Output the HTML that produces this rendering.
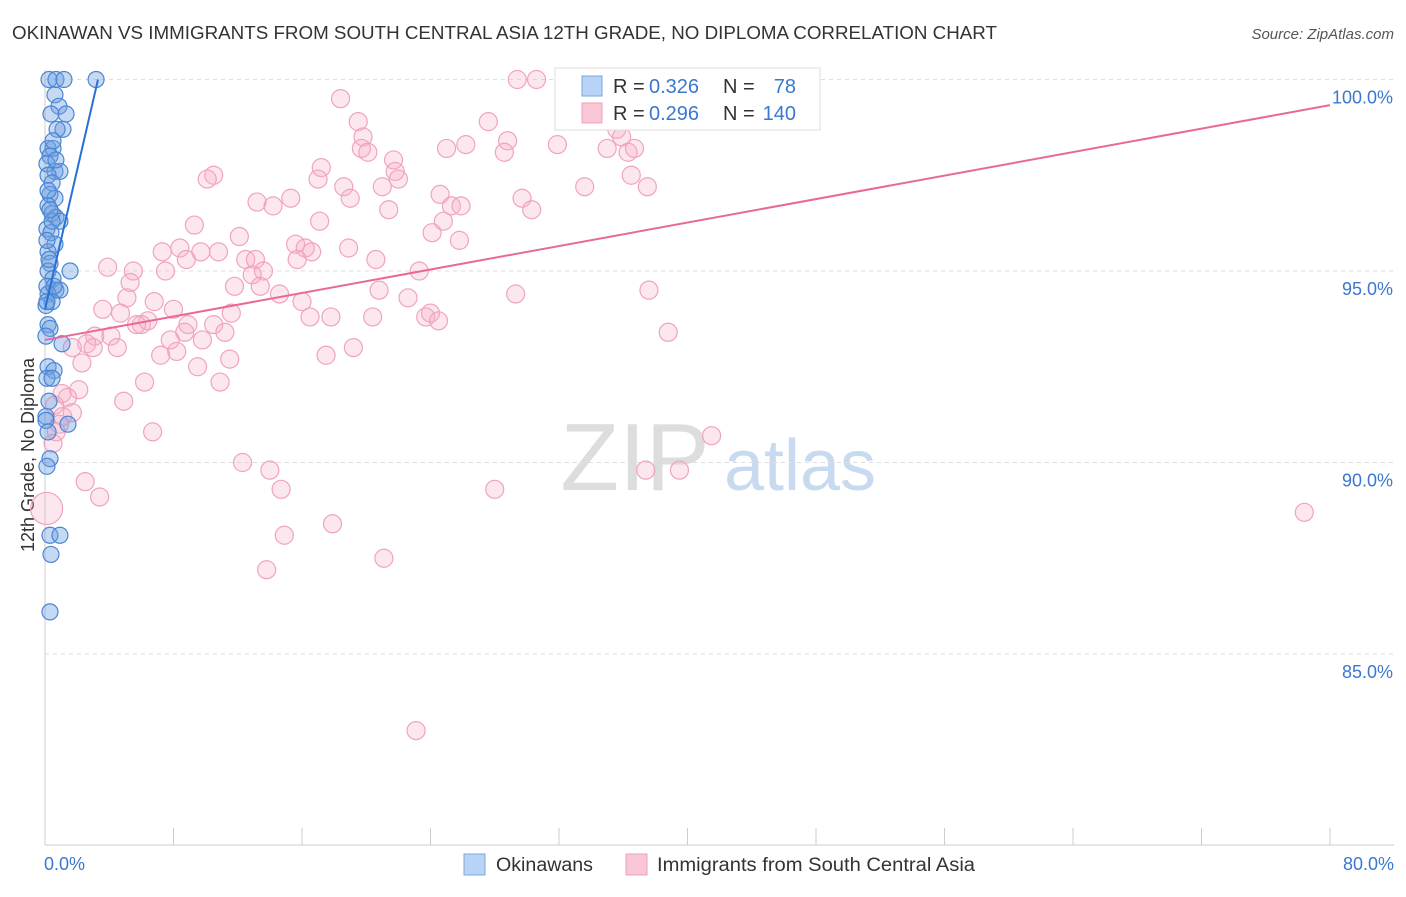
<!DOCTYPE html>
<html><head><meta charset="utf-8">
<style>
body{margin:0;background:#fff;font-family:"Liberation Sans",sans-serif;}
svg text{font-family:"Liberation Sans",sans-serif;}
</style></head>
<body>
<svg id="chart" width="1406" height="892" xmlns="http://www.w3.org/2000/svg">
<text x="12" y="39" font-size="18" fill="#333" textLength="985" lengthAdjust="spacingAndGlyphs">OKINAWAN VS IMMIGRANTS FROM SOUTH CENTRAL ASIA 12TH GRADE, NO DIPLOMA CORRELATION CHART</text>
<text x="1394" y="39" font-size="15" fill="#555" font-style="italic" text-anchor="end">Source: ZipAtlas.com</text>
<text transform="translate(34,455) rotate(-90)" font-size="18" fill="#333" text-anchor="middle">12th Grade, No Diploma</text>
<g>
<text x="635" y="490" font-size="96" fill="#ddd" font-family="Liberation Serif" text-anchor="middle">ZIP</text>
<text x="800" y="490" font-size="72" fill="#c8daf0" text-anchor="middle">atlas</text>
</g>
<g id="grid"></g><g id="axes"></g><g id="pink"></g><g id="blue"></g><g id="trend"></g>
<g>
<rect x="555" y="68" width="265" height="62" fill="#fff" stroke="#ddd"/>
<rect x="582" y="76" width="20" height="20" fill="#b8d3f5" stroke="#7aa8e0"/>
<text x="613" y="93" font-size="20" fill="#333">R =</text>
<text x="649" y="93" font-size="20" fill="#3a78d0">0.326</text>
<text x="723" y="93" font-size="20" fill="#333">N =</text>
<text x="796" y="93" font-size="20" fill="#3a78d0" text-anchor="end">78</text>
<rect x="582" y="103" width="20" height="20" fill="#f9c6d6" stroke="#eca0ba"/>
<text x="613" y="120" font-size="20" fill="#333">R =</text>
<text x="649" y="120" font-size="20" fill="#3a78d0">0.296</text>
<text x="723" y="120" font-size="20" fill="#333">N =</text>
<text x="796" y="120" font-size="20" fill="#3a78d0" text-anchor="end">140</text>
</g>
<g>
<rect x="464" y="854" width="21" height="21" fill="#b8d3f5" stroke="#7aa8e0"/>
<text x="496" y="871" font-size="19" fill="#333" textLength="97" lengthAdjust="spacingAndGlyphs">Okinawans</text>
<rect x="626" y="854" width="21" height="21" fill="#f9c6d6" stroke="#eca0ba"/>
<text x="657" y="871" font-size="19" fill="#333" textLength="318" lengthAdjust="spacingAndGlyphs">Immigrants from South Central Asia</text>
</g>
</svg>
<script>
const pinkX=[29.4,30.6,18.4,33.2,27.6,19.5,19.8,28.8,19.7,25.0,26.2,31.9,35.0,36.3,36.7,35.6,35.9,20.1,21.7,28.6,17.2,21.8,17.0,22.0,10.5,10.1,18.6,21.0,33.6,36.5,37.5,15.3,13.2,14.2,19.0,24.6,29.7,21.4,25.3,25.9,30.3,9.3,17.1,24.1,24.8,12.1,25.8,7.3,8.4,9.7,8.8,10.8,15.6,16.2,16.6,15.7,18.9,12.5,13.1,20.6,3.9,5.5,7.5,13.6,23.3,5.3,12.9,11.8,13.4,20.8,37.6,29.3,14.6,5.1,6.8,16.0,22.6,3.6,8.0,11.6,4.7,6.4,6.0,5.7,8.9,10.5,16.5,17.8,20.4,23.7,24.0,24.5,8.7,11.2,3.1,4.1,7.8,9.8,38.8,2.6,3.0,4.5,1.7,8.2,19.2,7.2,11.5,17.5,2.3,9.5,6.2,10.9,2.1,1.06,4.9,1.4,0.6,1.7,1.1,0.9,0.7,6.7,41.5,0.5,12.3,14.0,37.4,39.5,2.5,14.7,28.0,3.4,0.1,78.4,17.9,14.9,21.1,13.8,23.1];
const pinkY=[100,100,99.5,99.1,98.9,98.9,98.5,98.4,98.2,98.2,98.3,98.3,98.2,98.1,98.2,98.7,98.5,98.1,97.9,98.1,97.7,97.6,97.4,97.4,97.5,97.4,97.2,97.2,97.2,97.5,97.2,96.9,96.8,96.7,96.9,97.0,96.9,96.6,96.7,96.7,96.6,96.2,96.3,96.0,96.3,95.9,95.8,95.5,95.6,95.5,95.3,95.5,95.7,95.6,95.5,95.3,95.6,95.3,95.3,95.3,95.1,95.0,95.0,95.0,95.0,94.7,94.9,94.6,94.6,94.5,94.5,94.4,94.4,94.3,94.2,94.2,94.3,94.0,94.0,93.9,93.9,93.7,93.6,93.6,93.6,93.6,93.8,93.8,93.8,93.8,93.9,93.7,93.4,93.4,93.3,93.3,93.2,93.2,93.4,93.1,93.0,93.0,93.0,92.9,93.0,92.8,92.7,92.8,92.6,92.5,92.1,92.1,91.9,91.8,91.6,91.7,91.5,91.3,91.2,91.0,90.8,90.8,90.7,90.5,90.0,89.8,89.8,89.8,89.5,89.3,89.3,89.1,88.8,88.7,88.4,88.1,87.5,87.2,83.0];
const blueX=[0.25,0.68,1.18,3.18,0.62,0.87,1.31,0.37,1.12,0.75,0.19,0.5,0.31,0.12,0.62,0.93,0.19,0.44,0.31,0.62,0.19,0.44,0.68,0.93,0.12,0.37,0.62,0.19,0.31,1.56,0.19,0.5,0.12,0.68,0.93,0.19,0.44,0.06,0.19,0.31,0.06,1.06,0.19,0.56,0.12,0.44,0.25,0.06,1.43,0.31,0.12,0.31,0.93,0.37,0.31,0.06,0.19,0.5,0.25,0.44,0.12,0.68,0.19,0.31,0.56,0.12];
const blueY=[100,100,100,100,99.6,99.3,99.1,99.1,98.7,98.7,98.2,98.2,98.0,97.8,97.6,97.6,97.5,97.3,97.0,96.9,96.7,96.5,96.4,96.3,96.1,96.0,95.7,95.5,95.2,95.0,95.0,94.8,94.6,94.5,94.5,94.4,94.2,94.1,93.6,93.5,93.3,93.1,92.5,92.4,92.2,92.2,91.6,91.2,91.0,90.1,89.9,88.1,88.1,87.6,86.1,91.1,90.8,98.4,95.3,96.3,95.8,97.9,97.1,96.6,94.6,94.2];
const blueTrend=[[0,94.0],[3.3,100]];
const pinkTrend=[[0,93.2],[80,99.33]];
const yTicks=[100,95,90,85];
const xTickVals=[0,8,16,24,32,40,48,56,64,72,80];

const NS="http://www.w3.org/2000/svg";
const X=v=>45+v/80*1285;
const Y=v=>79.5+(100-v)*38.3;
function mk(tag,attrs,parent){const e=document.createElementNS(NS,tag);for(const k in attrs)e.setAttribute(k,attrs[k]);document.getElementById(parent).appendChild(e);return e;}

yTicks.forEach(t=>{
  const l=mk('line',{x1:45,x2:1394,y1:Y(t),y2:Y(t),stroke:'#ddd','stroke-dasharray':'4,4'},'grid');
  
  
  const tx=mk('text',{x:1393,y:Y(t)+24,'font-size':18,fill:'#3a78d0','text-anchor':'end'},'grid');
  tx.textContent=t.toFixed(1)+'%';
  
  
});
const ax=mk('line',{x1:45,x2:1394,y1:845,y2:845,stroke:'#ccc'},'axes');


const ay=mk('line',{x1:45,x2:45,y1:70,y2:845,stroke:'#ccc'},'axes');


xTickVals.forEach(t=>{
  const l=mk('line',{x1:X(t),x2:X(t),y1:828,y2:845,stroke:'#ccc'},'axes');
  
  
});
[[0,'start'],[80,'end']].forEach(([t,a])=>{
  const tx=mk('text',{x:t===0?44:1394,y:870,'font-size':18,fill:'#3a78d0','text-anchor':a},'axes');
  tx.textContent=t.toFixed(1)+'%';
  
  
});
pinkX.forEach((v,i)=>{
  const c=mk('circle',{cx:X(v),cy:Y(pinkY[i]),r:(v<0.5&&pinkY[i]<89)?16:9,fill:'rgba(248,175,200,0.3)',stroke:'#f0a3bd','stroke-width':1.2},'pink');
  
  
});
blueX.forEach((v,i)=>{
  const c=mk('circle',{cx:X(v),cy:Y(blueY[i]),r:8,fill:'rgba(110,160,225,0.4)',stroke:'#4a86d6','stroke-width':1.2},'blue');
  
  
});
const bt=mk('line',{x1:X(blueTrend[0][0]),y1:Y(blueTrend[0][1]),x2:X(blueTrend[1][0]),y2:Y(blueTrend[1][1]),stroke:'#2a6fd6','stroke-width':2},'trend');


const pt=mk('line',{x1:X(pinkTrend[0][0]),y1:Y(pinkTrend[0][1]),x2:X(pinkTrend[1][0]),y2:Y(pinkTrend[1][1]),stroke:'#e8689a','stroke-width':2},'trend');


</script>
</body></html>
